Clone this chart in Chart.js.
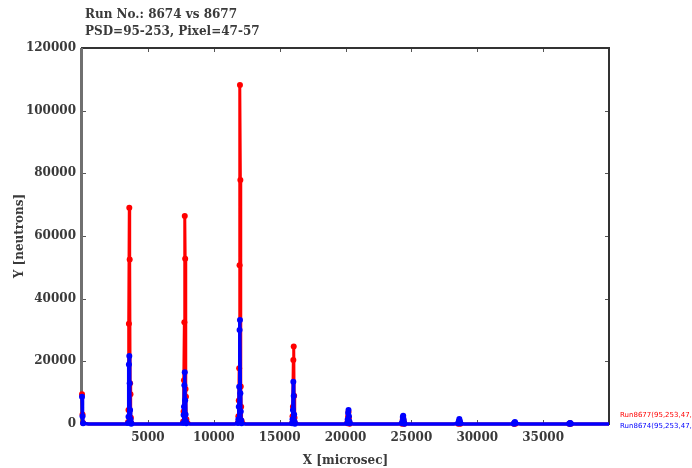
<!DOCTYPE html>
<html>
<head>
<meta charset="utf-8">
<script src="https://cdn.jsdelivr.net/npm/chart.js@4.4.1/dist/chart.umd.min.js"></script>
<style>
  html, body { margin: 0; padding: 0; background: #fff; }
  #wrap { width: 692px; height: 468px; }
</style>
</head>
<body>
<div id="wrap"><canvas id="tof-chart" width="692" height="468"></canvas></div>
<script>
// title lines and legend labels
const titleLines = ['Run No.: 8674 vs 8677', 'PSD=95-253, Pixel=47-57'];
const seriesLabels = ['Run8677(95,253,47,57)', 'Run8674(95,253,47,57)'];

// time bins (microsec)
const xValues = [
  0, 40, 80, 500, 1000, 1500, 2000, 2500, 3000, 3400,
  3500, 3530, 3560, 3590, 3620, 3650, 3680, 3710, 3740,
  4000, 4500, 5000, 5500, 6000, 6500, 7000, 7500,
  7680, 7710, 7740, 7770, 7800, 7830, 7860, 7890, 7920,
  8200, 8700, 9200, 9700, 10200, 10700, 11200, 11600,
  11840, 11870, 11900, 11930, 11960, 11990, 12020, 12050, 12080, 12110,
  12400, 12900, 13400, 13900, 14400, 14900, 15400, 15800,
  15950, 15980, 16010, 16040, 16070, 16100, 16130, 16160,
  16500, 17000, 17500, 18000, 18500, 19000, 19500, 19900,
  20140, 20170, 20200, 20230, 20260, 20290, 20320,
  20600, 21100, 21600, 22100, 22600, 23100, 23600, 24000,
  24290, 24320, 24350, 24380, 24410, 24440, 24470,
  24800, 25300, 25800, 26300, 26800, 27300, 27800, 28200,
  28560, 28600, 28640, 28680, 28720,
  29000, 29500, 30000, 30500, 31000, 31500, 32000, 32400,
  32780, 32820, 32860, 32900,
  33300, 33800, 34300, 34800, 35300, 35800, 36300, 36700,
  36980, 37020, 37060, 37100,
  37500, 38000, 38500, 39000, 39500, 40000
];

// neutrons, run 8677 (red)
const redValues = [
  9500, 3000, 300, 0, 0, 0, 0, 0, 0, 0,
  600, 4500, 32000, 69000, 52500, 13000, 9500, 2000, 300,
  0, 0, 0, 0, 0, 0, 0, 0,
  800, 4000, 14000, 32500, 66400, 52700, 11200, 8700, 1500,
  0, 0, 0, 0, 0, 0, 0, 0,
  500, 2500, 7500, 17800, 50700, 108200, 77900, 12000, 5500, 1000,
  0, 0, 0, 0, 0, 0, 0, 0,
  300, 2500, 5500, 20400, 24700, 9000, 2000, 300,
  0, 0, 0, 0, 0, 0, 0, 0,
  200, 900, 2500, 3800, 2000, 600, 100,
  0, 0, 0, 0, 0, 0, 0, 0,
  100, 500, 1500, 2000, 1000, 300, 100,
  0, 0, 0, 0, 0, 0, 0, 0,
  100, 500, 1000, 500, 100,
  0, 0, 0, 0, 0, 0, 0, 0,
  50, 200, 300, 100,
  0, 0, 0, 0, 0, 0, 0, 0,
  50, 150, 200, 50,
  0, 0, 0, 0, 0, 0
];

// neutrons, run 8674 (blue)
const blueValues = [
  8700, 2500, 200, 0, 0, 0, 0, 0, 0, 0,
  300, 2300, 19000, 21700, 13000, 4500, 1500, 500, 100,
  0, 0, 0, 0, 0, 0, 0, 0,
  300, 2900, 5500, 12400, 16500, 7600, 3000, 900, 200,
  0, 0, 0, 0, 0, 0, 0, 0,
  300, 1500, 5500, 11900, 30000, 33200, 9800, 4000, 1200, 200,
  0, 0, 0, 0, 0, 0, 0, 0,
  200, 1500, 4500, 13500, 8900, 3000, 800, 100,
  0, 0, 0, 0, 0, 0, 0, 0,
  300, 1500, 3500, 4500, 2500, 900, 200,
  0, 0, 0, 0, 0, 0, 0, 0,
  200, 800, 2200, 2600, 1400, 500, 100,
  0, 0, 0, 0, 0, 0, 0, 0,
  200, 900, 1600, 900, 200,
  0, 0, 0, 0, 0, 0, 0, 0,
  100, 400, 600, 200,
  0, 0, 0, 0, 0, 0, 0, 0,
  80, 250, 350, 100,
  0, 0, 0, 0, 0, 0
];

const toPoints = vals => vals.map((v, i) => ({ x: xValues[i], y: v }));

// empty bins merge into the thick baseline, so no dot for them
const dotRadius = c => (c.raw && c.raw.y === 0) ? 0 : 3;

const serifBold = { family: '"DejaVu Serif", "Liberation Serif", serif', size: 12, weight: 'bold' };
const textGray = '#3a3a3a';

// frame and inward tick marks, drawn under the lines
const framePlugin = {
  id: 'frame',
  beforeDatasetsDraw(chart) {
    const { ctx, chartArea: a, scales: { x, y } } = chart;
    ctx.save();
    ctx.strokeStyle = '#555';
    ctx.lineWidth = 1;
    ctx.beginPath();
    x.ticks.forEach(t => {
      const px = Math.round(x.getPixelForValue(t.value)) + 0.5;
      ctx.moveTo(px, a.top); ctx.lineTo(px, a.top + 4);
      ctx.moveTo(px, a.bottom); ctx.lineTo(px, a.bottom - 4);
    });
    y.ticks.forEach(t => {
      const py = Math.round(y.getPixelForValue(t.value)) + 0.5;
      ctx.moveTo(a.left, py); ctx.lineTo(a.left + 4, py);
      ctx.moveTo(a.right, py); ctx.lineTo(a.right - 4, py);
    });
    ctx.stroke();
    ctx.strokeStyle = '#333';
    ctx.lineWidth = 2;
    ctx.strokeRect(a.left, a.top, a.right - a.left, a.bottom - a.top);
    ctx.strokeStyle = '#707070';
    ctx.lineWidth = 3;
    ctx.beginPath();
    ctx.moveTo(a.left - 0.5, a.top);
    ctx.lineTo(a.left - 0.5, a.bottom);
    ctx.stroke();
    ctx.restore();
  },
  afterDraw(chart) {
    const { ctx, chartArea: a } = chart;
    ctx.save();
    ctx.font = 'bold 12px "DejaVu Serif", "Liberation Serif", serif';
    ctx.fillStyle = textGray;
    ctx.textBaseline = 'middle';
    ctx.fillText(titleLines[0], 85, 15);
    ctx.fillText(titleLines[1], 85, 32);
    // legend, outside the plot on the lower right
    ctx.font = '7px "DejaVu Sans", sans-serif';
    chart.data.datasets.forEach((ds, i) => {
      ctx.fillStyle = ds.borderColor;
      ctx.fillText(ds.label, a.right + 11, 415 + i * 11);
    });
    ctx.restore();
  }
};

const ctx = document.getElementById('tof-chart').getContext('2d');
const tofChart = new Chart(ctx, {
  type: 'line',
  data: {
    datasets: [
      {
        label: seriesLabels[0],
        data: toPoints(redValues),
        borderColor: '#ff0000',
        backgroundColor: '#ff0000',
        borderWidth: 3,
        borderJoinStyle: 'round',
        pointRadius: dotRadius,
        pointBorderWidth: 0,
        tension: 0,
        clip: false,
        order: 2
      },
      {
        label: seriesLabels[1],
        data: toPoints(blueValues),
        borderColor: '#0000ff',
        backgroundColor: '#0000ff',
        borderWidth: 3.5,
        borderJoinStyle: 'round',
        pointRadius: dotRadius,
        pointBorderWidth: 0,
        tension: 0,
        clip: false,
        order: 1
      }
    ]
  },
  options: {
    responsive: false,
    animation: false,
    layout: { padding: { top: 48, right: 83, bottom: 0, left: 0 } },
    plugins: {
      legend: { display: false },
      tooltip: { enabled: false },
      title: { display: false }
    },
    scales: {
      x: {
        type: 'linear',
        min: 0,
        max: 40000,
        afterFit: s => { s.height = 44; },
        grid: { display: false, drawTicks: false },
        border: { display: false },
        ticks: {
          stepSize: 5000,
          padding: 7,
          maxRotation: 0,
          color: textGray,
          font: serifBold,
          callback: v => (v === 0 || v === 40000) ? '' : String(v)
        },
        title: {
          display: true,
          text: 'X [microsec]',
          color: textGray,
          font: serifBold,
          padding: { top: 0, bottom: 0 }
        }
      },
      y: {
        min: 0,
        max: 120000,
        afterFit: s => { s.width = 82; },
        grid: { display: false, drawTicks: false },
        border: { display: false },
        ticks: {
          stepSize: 20000,
          padding: 6,
          color: textGray,
          font: serifBold,
          callback: v => String(v)
        },
        title: {
          display: true,
          text: 'Y [neutrons]',
          color: textGray,
          font: serifBold,
          padding: { top: 13, bottom: 0 }
        }
      }
    }
  },
  plugins: [framePlugin]
});
</script>
</body>
</html>
